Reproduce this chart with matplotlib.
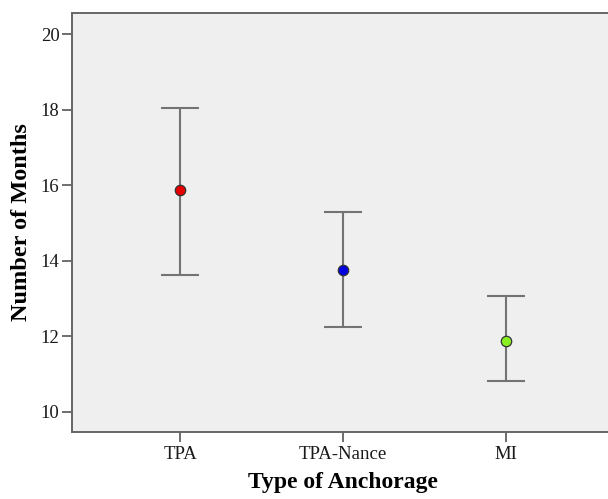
import numpy as np
import matplotlib
matplotlib.use("Agg")
from matplotlib import pyplot as plt

# values (mean and 95% CI bounds)
groups = ["TPA", "TPA-Nance", "MI"]
means = [15.86, 13.74, 11.88]
upper = [18.04, 15.29, 13.06]
lower = [13.63, 12.24, 10.80]
point_colors = ["#e60000", "#0000e0", "#88f020"]
y_ticks = [10, 12, 14, 16, 18, 20]

plt.rcParams["font.family"] = ["Liberation Serif", "DejaVu Serif"]

fig = plt.figure(figsize=(6.08, 4.99), dpi=100)
ax = fig.add_axes([72 / 608, 67.3 / 499, 542 / 608, 418.7 / 499])
ax.set_facecolor("#efefef")

x = np.arange(len(groups))
yerr = [np.array(means) - np.array(lower), np.array(upper) - np.array(means)]
ax.errorbar(x, means, yerr=yerr, fmt="none", ecolor="#737373",
            elinewidth=1.5, capsize=14, capthick=1.5, zorder=2)
for xi, m, c in zip(x, means, point_colors):
    ax.plot(xi, m, "o", ms=7.5, mfc=c, mec="#333333", mew=0.9, zorder=3)

ax.set_xlim(-0.663, 2.663)
ax.set_ylim(9.47, 20.56)
ax.set_xticks(x)
ax.set_xticklabels(groups)
ax.set_yticks(y_ticks)

for side in ["left", "bottom", "top", "right"]:
    ax.spines[side].set_color("#666666")
    ax.spines[side].set_linewidth(1.4)

ax.tick_params(axis="both", direction="out", length=7, width=1.2,
               color="#555555", labelsize=13.5, labelcolor="#1a1a1a")
ax.tick_params(axis="y", pad=2)
ax.tick_params(axis="x", pad=3)

ax.set_xlabel("Type of Anchorage", fontsize=17, fontweight="bold", labelpad=7)
ax.set_ylabel("Number of Months", fontsize=17.5, fontweight="bold", labelpad=6)

plt.savefig("out.png", dpi=100)
